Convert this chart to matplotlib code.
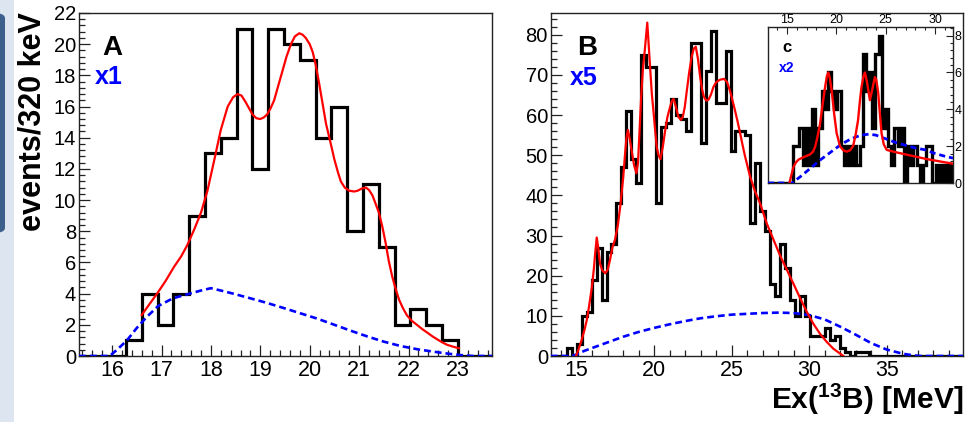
import numpy as np
import matplotlib
matplotlib.use("Agg")
import matplotlib.pyplot as plt
from matplotlib.ticker import MultipleLocator
from matplotlib.patches import FancyBboxPatch, Rectangle

plt.rcParams['font.family'] = ['Liberation Sans', 'DejaVu Sans']
plt.rcParams['mathtext.fontset'] = 'custom'
plt.rcParams['mathtext.rm'] = 'Liberation Sans'
plt.rcParams['mathtext.bf'] = 'Liberation Sans:bold'

BIN_W = 0.32

# ---------------- Panel A data ----------------
a_start = 16.28
a_counts = [1, 4, 2, 4, 9, 13, 14, 21, 12, 21, 20, 19, 14, 16, 8, 11, 7, 2, 3, 2, 1]
a_fit = [(16.6, 2.63), (16.75, 3.3), (16.91, 4.0), (17.08, 4.8), (17.25, 5.7), (17.4, 6.4),
         (17.52, 7.1), (17.66, 8.1), (17.8, 9.2), (17.93, 10.6), (18.07, 12.6), (18.2, 14.5),
         (18.34, 16.0), (18.45, 16.6), (18.54, 16.8), (18.62, 16.7), (18.7, 16.3), (18.84, 15.5),
         (18.92, 15.25), (19.0, 15.2), (19.07, 15.3), (19.14, 15.5), (19.21, 15.9), (19.28, 16.4),
         (19.36, 17.3), (19.45, 18.3), (19.53, 19.2), (19.62, 20.0), (19.7, 20.5), (19.79, 20.7),
         (19.86, 20.6), (19.92, 20.4), (20.0, 20.0), (20.06, 19.5), (20.12, 18.7), (20.19, 17.5),
         (20.26, 16.2), (20.33, 14.9), (20.42, 13.7), (20.5, 12.6), (20.57, 11.8), (20.63, 11.2),
         (20.71, 10.8), (20.8, 10.6), (20.9, 10.55), (20.97, 10.6), (21.06, 10.75), (21.14, 10.8),
         (21.2, 10.65), (21.27, 10.3), (21.33, 9.8), (21.4, 9.2), (21.47, 8.3), (21.54, 7.2),
         (21.6, 6.1), (21.67, 5.1), (21.74, 4.3), (21.81, 3.6), (21.89, 3.05), (21.97, 2.6),
         (22.07, 2.25), (22.17, 2.0), (22.28, 1.72), (22.38, 1.5), (22.48, 1.27), (22.58, 1.07),
         (22.68, 0.88), (22.78, 0.72), (22.9, 0.6), (23.02, 0.5)]
a_bg = [(15.33, 0), (15.95, 0), (16.1, 0.4), (16.3, 1.0), (16.5, 1.8), (16.7, 2.5), (16.93, 3.2),
        (17.23, 3.7), (17.57, 4.0), (17.8, 4.2), (18.0, 4.35), (18.2, 4.2), (18.45, 4.0),
        (18.8, 3.7), (19.14, 3.4), (19.5, 3.05), (19.8, 2.75), (20.15, 2.4), (20.5, 2.0),
        (20.85, 1.6), (21.17, 1.25), (21.5, 0.92), (21.84, 0.64), (22.2, 0.42), (22.5, 0.28),
        (22.8, 0.15), (23.05, 0.06), (23.3, 0), (23.69, 0)]

# ---------------- Panel B data ----------------
b_start = 14.04
b_counts = [0, 2, 0, 3, 10, 11, 19, 27, 14, 26, 28, 38, 47, 61, 49, 43, 75, 72, 72, 38,
            57, 58, 64, 60, 59, 56, 78, 78, 53, 71, 81, 63, 63, 76, 51, 56, 56, 55, 33, 48,
            36, 31, 18, 15, 28, 22, 14, 10, 15, 10, 5, 5, 5, 7, 4, 5, 2, 1, 0, 1, 1, 1]
b_fit = [(14.95, 0), (15.1, 1.5), (15.32, 4), (15.5, 6.5), (15.65, 9), (15.8, 12.5), (15.97, 17),
         (16.1, 21.5), (16.2, 26), (16.29, 29.5), (16.4, 26.5), (16.5, 23), (16.65, 21.3),
         (16.85, 20.6), (17.0, 21.5), (17.15, 24), (17.3, 27), (17.47, 29), (17.65, 32.5),
         (17.8, 37), (18.0, 44.5), (18.1, 49.5), (18.2, 54), (18.3, 56.3), (18.42, 54),
         (18.55, 51), (18.7, 47.5), (18.85, 45.5), (18.95, 48), (19.04, 55), (19.15, 64),
         (19.26, 71), (19.4, 76.5), (19.55, 83), (19.65, 77), (19.73, 72), (19.85, 65),
         (19.95, 61), (20.05, 56.5), (20.16, 52), (20.28, 50), (20.4, 49), (20.55, 52),
         (20.7, 56), (20.85, 59.5), (21.02, 62), (21.14, 63.5), (21.25, 64), (21.4, 62),
         (21.56, 59.5), (21.72, 58.8), (21.84, 59.5), (21.97, 62), (22.1, 66), (22.25, 70.5),
         (22.42, 74.6), (22.55, 76.5), (22.68, 77), (22.82, 74), (22.96, 69.6), (23.08, 66.5),
         (23.2, 64.6), (23.35, 63.6), (23.5, 63.8), (23.65, 65), (23.82, 67), (24.0, 68.2),
         (24.25, 68.8), (24.5, 69), (24.7, 68.2), (24.89, 66), (25.05, 63.6), (25.2, 61.3),
         (25.37, 58.5), (25.54, 55.5), (25.7, 52.5), (25.86, 49.7), (26.18, 44.7), (26.5, 41),
         (26.83, 38), (27.26, 33), (27.69, 29), (28.12, 25), (28.55, 21.5), (28.98, 18),
         (29.4, 14.5), (29.84, 11), (30.27, 8), (30.7, 5.5), (31.13, 3.5), (31.56, 1.8),
         (31.99, 0.6), (32.2, 0)]
b_bg = [(13.32, 0), (14.7, 0), (15.0, 0.4), (15.5, 1.3), (16.0, 2.0), (16.5, 2.7), (17.0, 3.4),
        (18.0, 4.8), (19.0, 6.0), (20.0, 7.0), (21.0, 7.9), (22.0, 8.7), (23.0, 9.4), (24.0, 9.9),
        (25.0, 10.3), (26.0, 10.5), (27.0, 10.7), (28.0, 10.8), (29.0, 10.7), (30.0, 10.2),
        (31.0, 9.1), (32.0, 7.3), (33.0, 5.3), (34.0, 3.2), (35.0, 1.6), (36.0, 0.6),
        (36.7, 0.15), (37.2, 0), (39.92, 0)]

# ---------------- Inset C data ----------------
c_start = 15.64
c_counts = [2, 2, 3, 1, 3, 1, 4, 1, 3, 5, 4, 6, 5, 4, 5, 2, 1, 2, 1, 2,
            1, 2, 7, 5, 6, 3, 7, 8, 3, 4, 2, 1, 3, 2, 3, 0, 2, 1, 2, 1,
            0, 1, 2, 2, 0, 1, 0, 1, 0, 1]
c_fit = [(15.27, 0), (15.45, 0.4), (15.67, 0.87), (15.9, 1.1), (16.18, 1.27), (16.68, 1.4),
         (17.35, 1.55), (17.65, 1.7), (17.86, 1.96), (18.1, 2.5), (18.36, 3.2), (18.6, 4.2),
         (18.87, 5.2), (19.05, 5.8), (19.2, 6.0), (19.35, 5.7), (19.54, 5.0), (19.8, 3.7),
         (20.04, 2.7), (20.38, 2.0), (20.7, 1.78), (21.05, 1.7), (21.4, 1.78), (21.7, 2.0),
         (21.95, 2.6), (22.2, 3.4), (22.4, 4.5), (22.55, 5.2), (22.75, 5.8), (22.9, 6.0),
         (23.1, 5.5), (23.4, 4.5), (23.65, 5.1), (23.9, 5.75), (24.05, 5.6), (24.24, 4.9),
         (24.42, 3.7), (24.58, 2.7), (24.8, 2.1), (25.1, 1.8), (25.77, 1.7), (27.45, 1.5),
         (29.13, 1.3), (30.8, 1.14), (31.8, 1.05)]
c_bg = [(13.1, 0), (15.55, 0), (16.5, 0.4), (17.5, 0.85), (18.5, 1.3), (19.5, 1.7), (20.5, 2.1),
        (21.5, 2.4), (22.5, 2.6), (23.3, 2.65), (24.0, 2.6), (25.0, 2.4), (26.0, 2.2),
        (27.0, 2.05), (28.0, 1.9), (29.0, 1.8), (30.0, 1.6), (31.0, 1.45), (31.8, 1.35)]


RED = '#ff0000'
BLUE = '#0000ff'
FRAME = '#222222'


def padded_hist(start, counts, xmin, xmax):
    """Histogram edges/values padded with empty bins out to the axis range."""
    nl = int(np.ceil((start - xmin) / BIN_W))
    n = len(counts)
    end = start + n * BIN_W
    nr = int(np.ceil((xmax - end) / BIN_W))
    vals = np.concatenate([np.zeros(nl), np.asarray(counts, float), np.zeros(nr)])
    edges = start + BIN_W * np.arange(-nl, n + nr + 1)
    return edges, vals


def style_axis(ax, xmaj, xmin_, ymaj, ymin_, lab_x=15.5, lab_y=14.5):
    ax.xaxis.set_major_locator(MultipleLocator(xmaj))
    ax.xaxis.set_minor_locator(MultipleLocator(xmin_))
    ax.yaxis.set_major_locator(MultipleLocator(ymaj))
    ax.yaxis.set_minor_locator(MultipleLocator(ymin_))
    ax.tick_params(which='both', direction='in', top=False, right=False, color=FRAME, width=0.9)
    ax.tick_params(which='major', length=8)
    ax.tick_params(which='minor', length=4)
    ax.tick_params(axis='x', labelsize=lab_x, pad=3)
    ax.tick_params(axis='y', labelsize=lab_y, pad=2)
    for s in ax.spines.values():
        s.set_color(FRAME)
        s.set_linewidth(1.0)


fig = plt.figure(figsize=(9.7, 4.22), dpi=100)
fig.patch.set_facecolor('white')

# decorative left strip
fig.patches.append(Rectangle((0, 0), 14 / 970, 1, transform=fig.transFigure,
                             facecolor='#dde5f1', edgecolor='none', zorder=0))
fig.patches.append(FancyBboxPatch((-10 / 970, 1 - 233 / 422), 15 / 970, 220 / 422,
                                  boxstyle='round,pad=0,rounding_size=0.012',
                                  transform=fig.transFigure, facecolor='#3d5f8c',
                                  edgecolor='none', zorder=1))

# ---------------- Panel A ----------------
axA = fig.add_axes([79 / 970, 66 / 422, 413 / 970, 343 / 422])
A_XLIM = (15.33, 23.69)
edges, vals = padded_hist(a_start, a_counts, *A_XLIM)
axA.stairs(vals, edges, color='black', linewidth=2.3, joinstyle='miter', zorder=2)
bx, by = np.array(a_bg).T
axA.plot(bx, by, color=BLUE, lw=1.9, dashes=(2.6, 1.5), zorder=3)
fx, fy = np.array(a_fit).T
axA.plot(fx, fy, color=RED, lw=1.6, zorder=4)
axA.set_xlim(*A_XLIM)
axA.set_ylim(0, 22)
style_axis(axA, 1, 0.2, 2, 0.4)
axA.text(0.08, 0.898, 'A', transform=axA.transAxes, ha='center', va='center',
         fontsize=20, fontweight='bold', color='black')
axA.text(0.072, 0.813, 'x1', transform=axA.transAxes, ha='center', va='center',
         fontsize=18, fontweight='bold', color=BLUE)

# ---------------- Panel B ----------------
axB = fig.add_axes([550.7 / 970, 66 / 422, 412.3 / 970, 343 / 422])
B_XLIM = (13.32, 39.92)
edges, vals = padded_hist(b_start, b_counts, *B_XLIM)
axB.stairs(vals, edges, color='black', linewidth=2.3, joinstyle='miter', zorder=2)
bx, by = np.array(b_bg).T
axB.plot(bx, by, color=BLUE, lw=1.9, dashes=(2.6, 1.5), zorder=3)
fx, fy = np.array(b_fit).T
axB.plot(fx, fy, color=RED, lw=1.6, zorder=4)
axB.set_xlim(*B_XLIM)
axB.set_ylim(0, 85.4)
style_axis(axB, 5, 1, 10, 2)
axB.text(0.088, 0.899, 'B', transform=axB.transAxes, ha='center', va='center',
         fontsize=20, fontweight='bold', color='black')
axB.text(0.081, 0.81, 'x5', transform=axB.transAxes, ha='center', va='center',
         fontsize=18, fontweight='bold', color=BLUE)

# ---------------- Inset C ----------------
axC = fig.add_axes([768 / 970, 239 / 422, 185 / 970, 156 / 422])
C_XLIM = (13.1, 31.8)
edges, vals = padded_hist(c_start, c_counts, *C_XLIM)
axC.stairs(vals, edges, color='black', linewidth=2.4, joinstyle='miter', zorder=2)
bx, by = np.array(c_bg).T
axC.plot(bx, by, color=BLUE, lw=2.0, dashes=(2.2, 1.4), zorder=3)
fx, fy = np.array(c_fit).T
axC.plot(fx, fy, color=RED, lw=1.7, zorder=4)
axC.set_xlim(*C_XLIM)
axC.set_ylim(0, 8.47)
axC.set_facecolor('white')
axC.xaxis.set_major_locator(MultipleLocator(5))
axC.xaxis.set_minor_locator(MultipleLocator(1))
axC.yaxis.set_major_locator(MultipleLocator(2))
axC.yaxis.set_minor_locator(MultipleLocator(0.4))
axC.xaxis.tick_top()
axC.yaxis.tick_right()
axC.tick_params(which='both', direction='in', color=FRAME, width=0.8,
                bottom=False, left=False, top=True, right=True)
axC.tick_params(which='major', length=5)
axC.tick_params(which='minor', length=2.5)
axC.tick_params(axis='x', labelsize=9, pad=1)
axC.tick_params(axis='y', labelsize=9, pad=1)
for s in axC.spines.values():
    s.set_color(FRAME)
    s.set_linewidth(1.0)
axC.text(0.103, 0.87, 'c', transform=axC.transAxes, ha='center', va='center',
         fontsize=12, fontweight='bold', color='black')
axC.text(0.1, 0.734, 'x2', transform=axC.transAxes, ha='center', va='center',
         fontsize=10, fontweight='bold', color=BLUE)

# ---------------- Axis titles ----------------
fig.text(33 / 970, 1 - 122 / 422, 'events/320 keV', rotation=90, ha='center', va='center',
         fontsize=22, fontweight='bold', color='black')
fig.text(963 / 970, 1 - 399 / 422, r'Ex($\mathbf{^{13}}$B) [MeV]', ha='right', va='center',
         fontsize=21.5, fontweight='bold', color='black')

fig.savefig('out.png', dpi=100)
